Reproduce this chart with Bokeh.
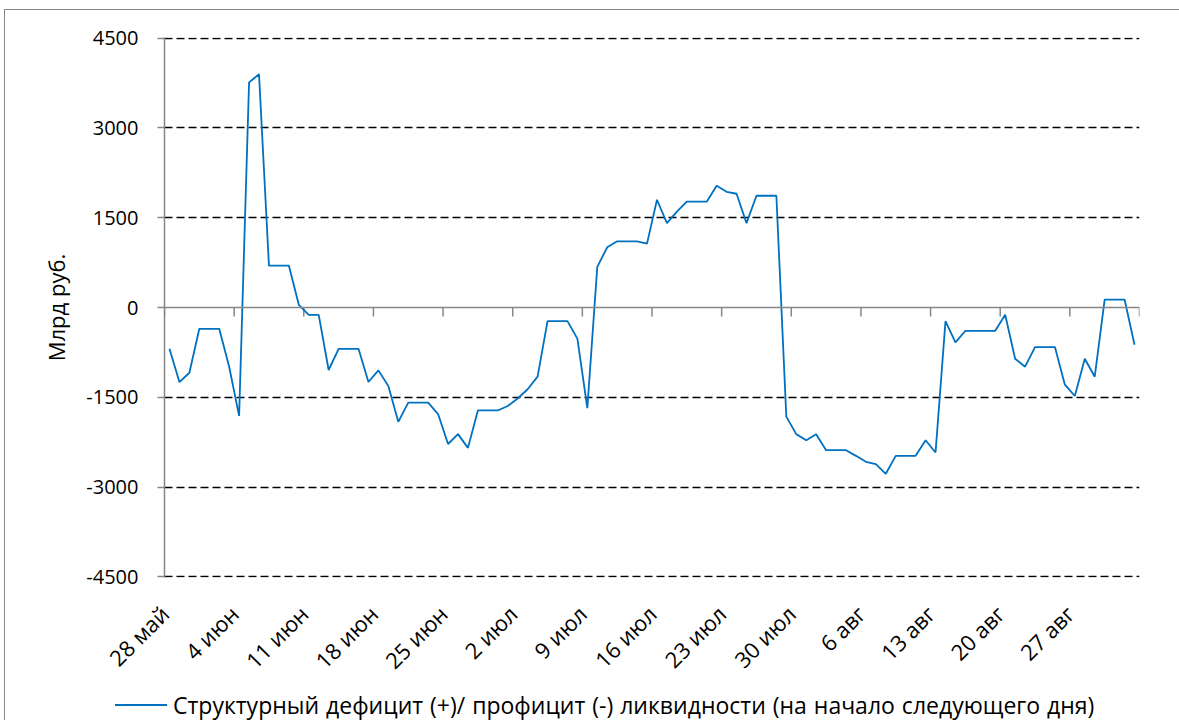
import math
import numpy as np
from bokeh.plotting import figure
from bokeh.layouts import column
from bokeh.models import FixedTicker, Span, ColumnDataSource, Div
from bokeh.embed import file_html
from bokeh.resources import INLINE

# ---- data ----
# daily values from 28 May to 2 Sep (billion rubles)
liquidity = [
    -690, -1245, -1090, -356, -356, -356, -990,
    -1810, 3760, 3895, 700, 700, 700, 45,
    -122, -122, -1044, -690, -690, -690, -1245,
    -1050, -1310, -1910, -1590, -1590, -1590, -1780,
    -2280, -2115, -2345, -1720, -1720, -1720, -1645,
    -1520, -1365, -1155, -228, -228, -228, -520,
    -1680, 678, 1005, 1105, 1105, 1105, 1067,
    1800, 1410, 1600, 1767, 1767, 1767, 2033,
    1933, 1900, 1410, 1867, 1867, 1867, -1822,
    -2115, -2217, -2117, -2383, -2383, -2383, -2478,
    -2578, -2617, -2778, -2478, -2478, -2478, -2217,
    -2422, -228, -583, -389, -389, -389, -389,
    -122, -856, -989, -661, -661, -661, -1289,
    -1478, -856, -1156, 133, 133, 133, -622,
]
week_labels = ["28 май", "4 июн", "11 июн", "18 июн", "25 июн", "2 июл", "9 июл",
               "16 июл", "23 июл", "30 июл", "6 авг", "13 авг", "20 авг", "27 авг"]
y_ticks = [-4500, -3000, -1500, 0, 1500, 3000, 4500]
y_tick_labels = ["-4500", "-3000", "-1500", "0", "1500", "3000", "4500"]
series_name = "Структурный дефицит (+)/ профицит (-) ликвидности (на начало следующего дня)"
y_title = "Млрд руб."

FONT = "Open Sans"
LINE_COLOR = "#0070C0"
n_days = len(liquidity)
day_x = np.arange(n_days) + 0.5          # points sit between day boundaries
week_bounds = list(range(0, n_days + 1, 7))
label_pos = [w + 0.0 for w in week_bounds[:len(week_labels)]]

p = figure(frame_width=975, frame_height=540, output_backend="svg", toolbar_location=None,
           x_range=(0, n_days), y_range=(-4510, 4510),
           min_border_left=159, min_border_top=27, min_border_right=37,
           min_border_bottom=100, background_fill_color="white",
           border_fill_color="white", outline_line_color=None)

# grid: dashed black, no line at zero (axis sits there)
p.xgrid.grid_line_color = None
p.ygrid.ticker = FixedTicker(ticks=[t for t in y_ticks if t != 0])
p.ygrid.grid_line_color = "black"
p.ygrid.grid_line_width = 1.5
p.ygrid.grid_line_dash = "8 4"

# y axis
ya = p.yaxis[0]
ya.ticker = FixedTicker(ticks=y_ticks)
ya.major_label_overrides = {t: l for t, l in zip(y_ticks, y_tick_labels)}
ya.axis_line_color = "#868686"
ya.axis_line_width = 1.5
ya.major_tick_line_color = "#868686"
ya.major_tick_line_width = 1.5
ya.major_tick_out = 7
ya.major_tick_in = 0
ya.minor_tick_line_color = None
ya.major_label_standoff = 19
ya.major_label_text_font = FONT
ya.major_label_text_font_size = "20px"
ya.major_label_text_color = "black"
ya.axis_label = y_title
ya.axis_label_text_font = FONT
ya.axis_label_text_font_size = "22px"
ya.axis_label_text_font_style = "normal"
ya.axis_label_text_color = "black"
ya.axis_label_standoff = 12

# x axis at bottom: labels only
xa = p.xaxis[0]
xa.ticker = FixedTicker(ticks=label_pos)
xa.major_label_overrides = {pos: lab for pos, lab in zip(label_pos, week_labels)}
xa.major_label_orientation = math.pi / 4
xa.axis_line_color = None
xa.major_tick_line_color = None
xa.minor_tick_line_color = None
xa.major_label_standoff = 26
xa.major_label_text_font = FONT
xa.major_label_text_font_size = "22px"
xa.major_label_text_color = "black"

# horizontal category axis crossing at zero with week ticks
p.add_layout(Span(location=0, dimension="width", line_color="#868686", line_width=1.5))
tick_len = 9 * (9020 / 540)
p.segment(x0=week_bounds, x1=week_bounds, y0=[0] * len(week_bounds),
          y1=[-tick_len] * len(week_bounds), line_color="#868686", line_width=1.5)

src = ColumnDataSource(dict(x=day_x, y=liquidity))
p.line("x", "y", source=src, line_color=LINE_COLOR, line_width=1.8)

# legend strip below the chart
legend_html = (
    '<div style="display:flex;align-items:center;height:24px;padding-left:105px;'
    f'font-family:\'{FONT}\';font-size:23px;line-height:24px;color:black;'
    'word-spacing:1px;white-space:nowrap;">'
    f'<span style="display:inline-block;width:52px;height:0;border-top:2px solid {LINE_COLOR};'
    'margin-right:6px;"></span>'
    f'<span>{series_name}</span></div>'
)
legend_div = Div(text=legend_html, width=1171, height=41)

layout = column(p, legend_div, spacing=0)
layout.styles = {"border": "1px solid #868686", "margin-left": "4px", "margin-top": "9px"}

open("out.html", "w").write(file_html(layout, INLINE))
